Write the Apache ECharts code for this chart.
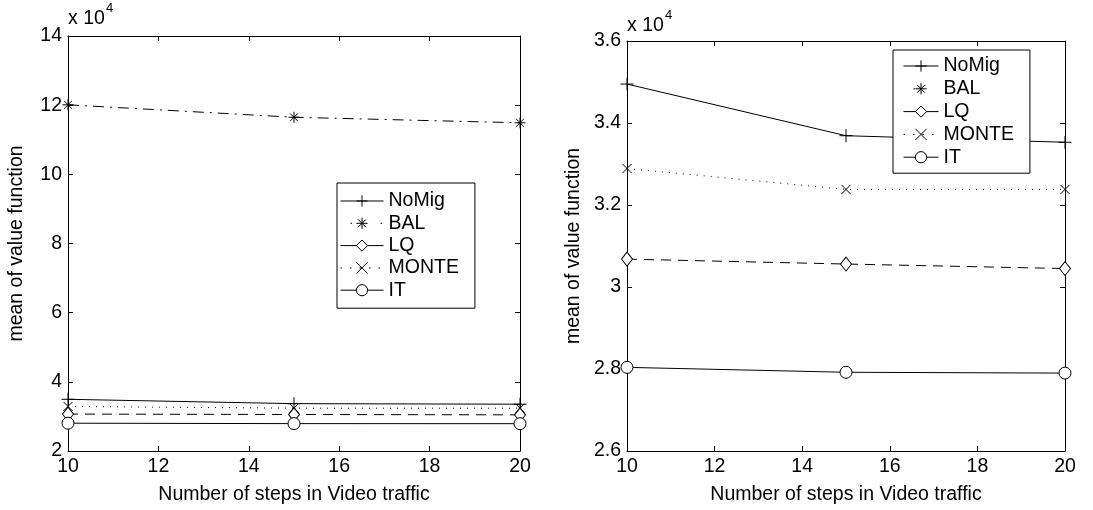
<!DOCTYPE html>
<html>
<head>
<meta charset="utf-8">
<script src="https://cdn.jsdelivr.net/npm/echarts@6/dist/echarts.min.js"></script>
<style>
  html, body { margin: 0; padding: 0; background: #fff; }
  #chart { width: 1093px; height: 510px; }
</style>
</head>
<body>
<div id="chart"></div>
<script>
// Number of steps (x axis, shared by both panels)
const steps = [10, 15, 20];

// Mean of value function per scheme
const noMig = [34950, 33690, 33530];
const bal   = [120100, 116500, 114900];
const lq    = [30680, 30560, 30450];
const monte = [32890, 32380, 32380];
const it    = [28040, 27920, 27900];

const seriesNames = ['NoMig', 'BAL', 'LQ', 'MONTE', 'IT'];

// Axis ranges (values are plotted in raw units, labelled in units of 1e4)
const leftYTicks  = { min: 20000, max: 140000, interval: 20000 };
const rightYTicks = { min: 26000, max: 36000, interval: 2000 };
const xTicks      = { min: 10, max: 20, interval: 2 };

const FONT = 'Liberation Sans, Arial, Helvetica, sans-serif';
const FS = 19.5;

const SYM_PLUS = 'path://M5,0L5,10M0,5L10,5';
const SYM_X = 'path://M0,0L10,10M10,0L0,10';
const SYM_STAR = 'path://M5,0L5,10M0,5L10,5M1.5,1.5L8.5,8.5M8.5,1.5L1.5,8.5';

const styles = {
  NoMig: { values: noMig, symbol: SYM_PLUS, size: 13, dash: 'solid', legendDash: 'solid' },
  BAL:   { values: bal,   symbol: SYM_STAR, size: 11, dash: [11, 6, 2, 6], legendDash: [1.5, 28.5], legendOffset: 20 },
  LQ:    { values: lq,    symbol: 'diamond', size: [11, 14], dash: [10, 7], legendDash: 'solid' },
  MONTE: { values: monte, symbol: SYM_X,    size: 9,  dash: [1, 6], legendDash: [1.5, 8], legendOffset: 0 },
  IT:    { values: it,    symbol: 'circle', size: 12, dash: 'solid', legendDash: 'solid' }
};

function yFmt(v) { return String(parseFloat((v / 1e4).toFixed(2))); }

function xAxes(gridIndex) {
  const common = {
    type: 'value', gridIndex: gridIndex,
    min: xTicks.min, max: xTicks.max, interval: xTicks.interval,
    axisLine: { show: true, lineStyle: { color: '#000', width: 1 } },
    axisTick: { show: true, inside: true, length: 5, lineStyle: { color: '#000' } },
    splitLine: { show: false }
  };
  return [
    Object.assign({}, common, {
      position: 'bottom',
      axisLabel: { color: '#000', fontSize: FS, fontFamily: FONT, margin: 6 },
      name: 'Number of steps in Video traffic',
      nameLocation: 'middle', nameGap: 34,
      nameTextStyle: { color: '#000', fontSize: FS, fontFamily: FONT }
    }),
    Object.assign({}, common, { position: 'top', axisLabel: { show: false } })
  ];
}

function yAxes(gridIndex, ticks, nameGap) {
  const common = {
    type: 'value', gridIndex: gridIndex,
    min: ticks.min, max: ticks.max, interval: ticks.interval,
    axisLine: { show: true, lineStyle: { color: '#000', width: 1 } },
    axisTick: { show: true, inside: true, length: 5, lineStyle: { color: '#000' } },
    splitLine: { show: false }
  };
  return [
    Object.assign({}, common, {
      position: 'left',
      axisLabel: { color: '#000', fontSize: FS, fontFamily: FONT, margin: 6, formatter: yFmt },
      name: 'mean of value function',
      nameLocation: 'middle', nameGap: nameGap,
      nameTextStyle: { color: '#000', fontSize: FS, fontFamily: FONT }
    }),
    Object.assign({}, common, { position: 'right', axisLabel: { show: false } })
  ];
}

function panelSeries(xIdx, yIdx) {
  return seriesNames.map(function (name) {
    const s = styles[name];
    return {
      name: name, type: 'line',
      xAxisIndex: xIdx, yAxisIndex: yIdx,
      data: steps.map(function (x, i) { return [x, s.values[i]]; }),
      symbol: s.symbol, symbolSize: s.size,
      showAllSymbol: true, clip: true,
      lineStyle: { color: '#000', width: 1, type: s.dash },
      itemStyle: { color: '#fff', borderColor: '#000', borderWidth: 1 },
      emphasis: { disabled: true }
    };
  });
}

function legend(left, top, itemWidth, gap, padding) {
  return {
    orient: 'vertical', left: left, top: top,
    data: seriesNames.map(function (name) {
      const s = styles[name];
      return {
        name: name,
        lineStyle: { color: '#000', width: 1, type: s.legendDash, dashOffset: s.legendOffset || 0 },
        itemStyle: { color: '#fff', borderColor: '#000', borderWidth: 1 }
      };
    }),
    itemWidth: itemWidth, itemHeight: 14, itemGap: gap,
    padding: padding,
    borderColor: '#000', borderWidth: 1, backgroundColor: '#fff',
    selectedMode: false,
    lineStyle: { width: 1 },
    itemStyle: { borderWidth: 1 },
    textStyle: { color: '#000', fontSize: FS, fontFamily: FONT, lineHeight: 14, padding: [0, 0, 0, 0] }
  };
}

const chart = echarts.init(document.getElementById('chart'), null, { renderer: 'canvas' });
chart.setOption({
  animation: false,
  backgroundColor: '#fff',
  grid: [
    { left: 68, right: 573, top: 36, bottom: 57 },
    { left: 627, right: 28, top: 41, bottom: 57 }
  ],
  xAxis: xAxes(0).concat(xAxes(1)),
  yAxis: yAxes(0, leftYTicks, 41).concat(yAxes(1, rightYTicks, 43)),
  legend: [
    legend(337, 183, 43, 2.3, [8, 16, 8, 3]),
    legend(893, 50, 35, 2.8, [6, 16, 6, 10])
  ],
  series: panelSeries(0, 0).concat(panelSeries(2, 2)),
  graphic: [
    { type: 'text', left: 68, top: 9, style: { text: 'x 10', fontSize: FS, fontFamily: FONT, fill: '#000' } },
    { type: 'text', left: 106, top: 2, style: { text: '4', fontSize: 13, fontFamily: FONT, fill: '#000' } },
    { type: 'text', left: 627, top: 16, style: { text: 'x 10', fontSize: FS, fontFamily: FONT, fill: '#000' } },
    { type: 'text', left: 665, top: 9, style: { text: '4', fontSize: 13, fontFamily: FONT, fill: '#000' } }
  ]
});
</script>
</body>
</html>
